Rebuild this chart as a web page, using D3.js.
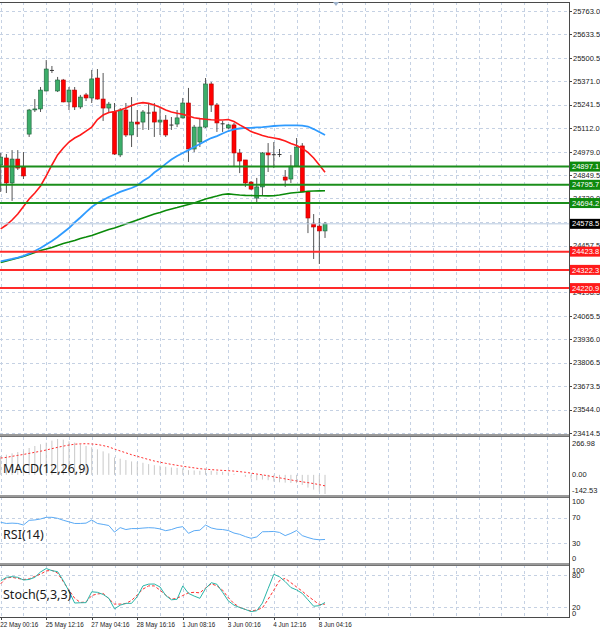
<!DOCTYPE html>
<html>
<head>
<meta charset="utf-8">
<script src="https://cdn.jsdelivr.net/npm/d3@7"></script>
<style>
  body { margin: 0; background: #fff; }
  svg { display: block; }
</style>
</head>
<body>
<div id="chart"></div>
<script>
// bars: [open, high, low, close]
const candles = [
  [24906, 24973, 24756, 24950], [24945, 24967, 24750, 24806], [24806, 24989, 24706, 24939],
  [24939, 24989, 24878, 24889], [24895, 24978, 24828, 24845], [25078, 25218, 25062, 25212],
  [25215, 25273, 25201, 25218], [25218, 25340, 25201, 25323], [25318, 25490, 25315, 25440],
  [25435, 25457, 25418, 25435], [25318, 25396, 25312, 25379], [25379, 25385, 25255, 25257],
  [25257, 25340, 25212, 25323], [25323, 25340, 25212, 25229], [25229, 25296, 25218, 25284],
  [25296, 25307, 25262, 25279], [25279, 25435, 25251, 25385], [25390, 25440, 25270, 25273],
  [25273, 25418, 25151, 25223], [25223, 25257, 25195, 25245], [25201, 25251, 24962, 24967],
  [24962, 25223, 24950, 25212], [25212, 25251, 25062, 25073], [25073, 25284, 25006, 25145],
  [25145, 25212, 25062, 25134], [25145, 25212, 25101, 25201], [25198, 25251, 25101, 25198],
  [25201, 25251, 25062, 25145], [25145, 25223, 25073, 25156], [25156, 25184, 25062, 25073],
  [25131, 25173, 25101, 25131], [25134, 25212, 25117, 25168], [25168, 25279, 25165, 25251],
  [25251, 25335, 24923, 24995], [24995, 25129, 24978, 25117], [25034, 25168, 25006, 25117],
  [25117, 25390, 25112, 25357], [25357, 25368, 25201, 25240], [25240, 25251, 25090, 25140],
  [25138, 25151, 25090, 25138], [25112, 25134, 25106, 25129], [25129, 25140, 24895, 24973],
  [24973, 24995, 24861, 24928], [24934, 24934, 24784, 24806], [24811, 24817, 24767, 24772],
  [24722, 24834, 24700, 24784], [24784, 24978, 24739, 24973], [24973, 25028, 24867, 24962],
  [24966, 25034, 24889, 24966], [24967, 24995, 24950, 24967], [24839, 24878, 24784, 24822],
  [24828, 24962, 24806, 24900], [24900, 25056, 24895, 25006], [25012, 25028, 24756, 24756],
  [24756, 24758, 24527, 24611], [24578, 24633, 24383, 24561], [24566, 24611, 24355, 24539],
  [24539, 24589, 24500, 24578.5]
];

// moving averages (fast red, middle blue, slow green)
const maFast = [24550,24572,24600,24633,24675,24717,24750,24789,24845,24906,24962,25001,25034,25056,25073,25095,25117,25159,25184,25198,25203,25212,25223,25237,25248,25253,25249,25240,25227,25212,25201,25194,25188,25179,25169,25164,25161,25158,25156,25156,25159,25148,25129,25112,25092,25081,25070,25062,25056,25050,25040,25026,25015,24998,24976,24945,24906,24865];
const maMid = [24369,24376,24383,24391,24400,24413,24427,24444,24464,24483,24505,24530,24555,24586,24614,24644,24672,24694,24711,24728,24742,24756,24767,24778,24792,24817,24836,24864,24886,24912,24937,24956,24973,24989,25006,25023,25040,25056,25067,25081,25095,25104,25109,25112,25113,25115,25117,25120,25123,25125,25126,25126,25126,25125,25120,25106,25090,25073];
const maSlow = [24363,24372,24380,24388,24397,24408,24419,24430,24438,24447,24458,24469,24477,24486,24497,24505,24514,24525,24536,24547,24555,24566,24578,24589,24600,24611,24622,24633,24642,24653,24661,24669,24678,24686,24694,24706,24717,24725,24733,24742,24745,24742,24739,24737,24736,24735,24735,24734,24735,24739,24745,24750,24753,24756,24760,24761,24762,24763];

// MACD(12,26,9)
const macdHist = [140,150,160,170,180,200,215,228,240,255,266.98,262,250,240,228,215,205,190,175,160,130,120,110,100,95,90,80,72,68,60,55,52,48,35,33,30,35,30,25,22,18,8,0,-15,-28,-40,-35,-40,-50,-55,-58,-60,-62,-75,-95,-110,-125,-142.53];
const macdSignal = [125,130,138,145,152,160,168,176,185,195,205,214,222,228,231,232,230,226,218,208,192,178,164,150,138,126,114,103,94,86,78,71,64,58,52,46,42,39,36,33,31,28,24,19,13,6,0,-7,-15,-22,-30,-38,-45,-52,-58,-65,-73,-82];

// RSI(14)
const rsi = [62.8,61,61.5,61,58.6,65.9,66.5,68,70.6,70.6,69,66,63.5,61,61,61.5,66.4,61,59.5,57.8,47.5,54.5,51.5,53,53,53.8,54.4,54,52.5,49.7,51.5,54.5,56,45.6,49.7,50.5,58.5,54,52,51.5,50,46,44,40.5,37.8,40,48,48.2,48.5,47,42,45.5,50,42,39,36.5,35.5,36];

// Stoch(5,3,3)
const stochMain = [69.5,76,77.3,76,71,72,76,86,92.5,88.5,86.6,70,50,28,28.5,28.7,49,48,44,37,17,24,27.4,27.4,40,60,63.3,63.5,58,42,34,35,60,46,41,36.8,55,66,63,48,32,24,19.5,16,12,13.5,28,55,81.7,77,68,57,52.5,46,34,22,23,29];
const stochSignal = [64,75,76,74,72,73,78,82,88,89,84,68,52,37,29,30,42,45,46,36,26,26,27,33,43,54,60,60,52,43,35,37,42,47,48,47,56,64,60,52,38,27,20,16,13,15,19,35,52,70,74,66,58,50,41,33,25,26];

// axis texts
const priceTicks = [25763.0,25633.5,25500.5,25371.0,25241.5,25112.0,24979.0,24849.5,24720.0,24590.5,24457.5,24328.0,24198.5,24065.5,23936.0,23806.5,23673.5,23544.0,23414.5];
const resistance = [24897.1, 24795.7, 24694.2];
const support = [24423.8, 24322.3, 24220.9];
const lastPrice = 24578.5;
const macdLabels = [266.98, 0, -142.53];
const rsiLevels = [70, 30];
const rsiLabels = [100, 70, 30, 0];
const stochLevels = [80, 20];
const stochLabels = [100, 80, 20, 0];
const timeLabels = ["22 May 00:16","25 May 12:16","27 May 04:16","28 May 16:16","1 Jun 08:16","3 Jun 00:16","4 Jun 12:16","8 Jun 04:16"];
const barsPerTimeLabel = 8;
const barsPerGrid = 4;

const chart = createChart();
document.getElementById("chart").appendChild(chart);

function createChart() {
    const width = 600;
    const height = 633;
    const plotRight = 569;
    const step = 5.69;

    // one x scale for all panels, one y scale per panel
    const x = d3.scaleLinear([0, 1], [0.7, 0.7 + step]);
    const y = d3.scaleLinear([23414.5, 25763], [433, 11]);
    const yMacd = d3.scaleLinear([-142.53, 266.98], [494, 439]);
    const yRsi = d3.scaleLinear([0, 100], [562.5, 498.5]);
    const yStoch = d3.scaleLinear([0, 100], [618, 564.5]);

    const svg = d3.create("svg")
        .attr("width", width)
        .attr("height", height)
        .attr("viewBox", [0, 0, width, height])
        .attr("font-family", "'Liberation Sans', Arial, sans-serif");

    svg.append("rect").attr("width", width).attr("height", height).attr("fill", "#fff");

    const grid = svg.append("g")
        .attr("stroke", "#c5d1e3")
        .attr("stroke-dasharray", "3,3")
        .attr("shape-rendering", "crispEdges");

    // vertical grid, every 4 bars through all panels
    const gridBars = d3.range(0, 200, barsPerGrid).filter(i => x(i) < plotRight - 2);
    for (const [top, bottom] of [[2, 435], [437, 495], [497, 563], [565, 617]]) {
        grid.append("g").selectAll("line")
            .data(gridBars)
            .join("line")
            .attr("x1", i => Math.round(x(i)) + 0.5)
            .attr("x2", i => Math.round(x(i)) + 0.5)
            .attr("y1", top)
            .attr("y2", bottom);
    }

    // horizontal grid
    grid.append("g").selectAll("line")
        .data(priceTicks)
        .join("line")
        .attr("x1", 0).attr("x2", plotRight)
        .attr("y1", d => Math.round(y(d)) + 0.5)
        .attr("y2", d => Math.round(y(d)) + 0.5);
    grid.append("g").selectAll("line")
        .data(rsiLevels)
        .join("line")
        .attr("x1", 0).attr("x2", plotRight)
        .attr("y1", d => Math.round(yRsi(d)) + 0.5)
        .attr("y2", d => Math.round(yRsi(d)) + 0.5);
    grid.append("g").selectAll("line")
        .data(stochLevels)
        .join("line")
        .attr("x1", 0).attr("x2", plotRight)
        .attr("y1", d => Math.round(yStoch(d)) + 0.5)
        .attr("y2", d => Math.round(yStoch(d)) + 0.5);

    // candles
    const bars = svg.append("g")
        .selectAll("g")
        .data(candles)
        .join("g")
        .attr("transform", (d, i) => `translate(${x(i)},0)`);

    bars.append("line")
        .attr("stroke", "#555")
        .attr("y1", d => y(d[1]))
        .attr("y2", d => y(d[2]));

    bars.append("rect")
        .attr("x", -2)
        .attr("width", 4)
        .attr("y", d => y(Math.max(d[0], d[3])))
        .attr("height", d => Math.max(1, Math.abs(y(d[0]) - y(d[3]))))
        .attr("fill", d => d[0] === d[3] ? "#333" : d[3] > d[0] ? "#3cae6a" : "#ff0000")
        .attr("stroke", d => d[0] === d[3] ? "none" : d[3] > d[0] ? "#1d5e38" : "#b40000")
        .attr("stroke-width", 0.6);

    // moving averages
    const maLine = d3.line().x((d, i) => x(i)).y(d => y(d));
    svg.append("path").attr("d", maLine(maSlow)).attr("fill", "none")
        .attr("stroke", "#0a8a0a").attr("stroke-width", 1.6);
    svg.append("path").attr("d", maLine(maMid)).attr("fill", "none")
        .attr("stroke", "#2f9bff").attr("stroke-width", 1.8);
    svg.append("path").attr("d", maLine(maFast)).attr("fill", "none")
        .attr("stroke", "#ff1a1a").attr("stroke-width", 1.6);

    // horizontal levels
    svg.append("line")
        .attr("x1", 0).attr("x2", plotRight)
        .attr("y1", y(lastPrice)).attr("y2", y(lastPrice))
        .attr("stroke", "#b7c8de");
    svg.append("g").selectAll("line")
        .data(resistance)
        .join("line")
        .attr("x1", 0).attr("x2", plotRight)
        .attr("y1", d => y(d)).attr("y2", d => y(d))
        .attr("stroke", "#1b8e1b").attr("stroke-width", 2);
    svg.append("g").selectAll("line")
        .data(support)
        .join("line")
        .attr("x1", 0).attr("x2", plotRight)
        .attr("y1", d => y(d)).attr("y2", d => y(d))
        .attr("stroke", "#ff2a2a").attr("stroke-width", 2);

    // MACD histogram and signal
    svg.append("g")
        .attr("stroke", "#c8c8c8")
        .selectAll("line")
        .data(macdHist)
        .join("line")
        .attr("x1", (d, i) => x(i)).attr("x2", (d, i) => x(i))
        .attr("y1", yMacd(0))
        .attr("y2", d => yMacd(d));
    svg.append("path")
        .attr("d", d3.line().x((d, i) => x(i)).y(d => yMacd(d))(macdSignal))
        .attr("fill", "none")
        .attr("stroke", "#ff3030")
        .attr("stroke-dasharray", "2,2");

    // RSI
    svg.append("path")
        .attr("d", d3.line().x((d, i) => x(i)).y(d => yRsi(d))(rsi))
        .attr("fill", "none")
        .attr("stroke", "#5aaaf5");

    // Stochastic
    svg.append("path")
        .attr("d", d3.line().x((d, i) => x(i)).y(d => yStoch(d))(stochSignal))
        .attr("fill", "none")
        .attr("stroke", "#ff3030")
        .attr("stroke-dasharray", "3,2");
    svg.append("path")
        .attr("d", d3.line().x((d, i) => x(i)).y(d => yStoch(d))(stochMain))
        .attr("fill", "none")
        .attr("stroke", "#2ab5a8");

    // panel borders and separators
    const frame = svg.append("g").attr("stroke", "#4a4a4a").attr("shape-rendering", "crispEdges");
    frame.append("line").attr("x1", 0).attr("x2", plotRight).attr("y1", 2.5).attr("y2", 2.5);
    for (const sy of [435, 496, 564]) {
        svg.append("rect").attr("x", 0).attr("y", sy - 1).attr("width", plotRight).attr("height", 2.5).attr("fill", "#9a9a9a");
        frame.append("line").attr("x1", 0).attr("x2", plotRight).attr("y1", sy - 1).attr("y2", sy - 1);
        frame.append("line").attr("x1", 0).attr("x2", plotRight).attr("y1", sy + 1.5).attr("y2", sy + 1.5);
    }
    frame.append("line").attr("x1", 0).attr("x2", plotRight).attr("y1", 617.5).attr("y2", 617.5);
    frame.append("line").attr("x1", plotRight + 0.5).attr("x2", plotRight + 0.5).attr("y1", 2).attr("y2", 618);

    // shift marker at the top
    svg.append("path").attr("d", "M333,2L339,2L336,6Z").attr("fill", "#9fb3cc");

    // level boxes on the axis
    const boxes = [
        ...resistance.map(v => ({ v, fill: "#0e8a0e" })),
        ...support.map(v => ({ v, fill: "#ff1a1a" })),
        { v: lastPrice, fill: "#000" }
    ];

    // price axis; a tick label fully under a level box is not drawn
    const hidden = d => boxes.some(b => Math.abs(y(b.v) - y(d)) < 3);
    const axis = svg.append("g").attr("font-size", 7.5).attr("fill", "#222");
    axis.selectAll("line")
        .data(priceTicks)
        .join("line")
        .attr("x1", plotRight).attr("x2", plotRight + 3)
        .attr("y1", d => Math.round(y(d)) + 0.5).attr("y2", d => Math.round(y(d)) + 0.5)
        .attr("stroke", "#444");
    axis.selectAll("text")
        .data(priceTicks.filter(d => !hidden(d)))
        .join("text")
        .attr("x", plotRight + 4)
        .attr("y", d => y(d))
        .attr("dy", "0.35em")
        .text(d => d.toFixed(1));

    const box = svg.append("g").selectAll("g")
        .data(boxes)
        .join("g")
        .attr("transform", d => `translate(${plotRight + 1},${y(d.v)})`);
    box.append("rect")
        .attr("y", -5).attr("width", 31).attr("height", 10)
        .attr("fill", d => d.fill);
    box.append("text")
        .attr("x", 2).attr("dy", "0.35em")
        .attr("font-size", 7.5).attr("fill", "#fff")
        .text(d => d.v.toFixed(1));

    // indicator axis labels
    const subAxis = svg.append("g").attr("font-size", 7.5).attr("fill", "#222");
    subAxis.selectAll(".macd")
        .data(macdLabels)
        .join("text")
        .attr("x", plotRight + 3)
        .attr("y", d => Math.min(Math.max(yMacd(d), 443), 490))
        .attr("dy", "0.35em")
        .text(d => d.toFixed(2));
    subAxis.selectAll(".rsi")
        .data(rsiLabels)
        .join("text")
        .attr("x", plotRight + 3)
        .attr("y", d => Math.min(Math.max(yRsi(d), 501), 558))
        .attr("dy", "0.35em")
        .text(d => d);
    subAxis.selectAll(".stoch")
        .data(stochLabels)
        .join("text")
        .attr("x", plotRight + 3)
        .attr("y", d => Math.min(Math.max(yStoch(d), 570), 613))
        .attr("dy", "0.35em")
        .text(d => d);

    // indicator names
    const names = svg.append("g")
        .attr("font-family", "'Noto Sans', sans-serif")
        .attr("font-size", 12.5)
        .attr("fill", "#1a1a1a");
    names.append("text").attr("x", 3).attr("y", 472.5).text("MACD(12,26,9)");
    names.append("text").attr("x", 3).attr("y", 538.5).text("RSI(14)");
    names.append("text").attr("x", 3).attr("y", 599).text("Stoch(5,3,3)");

    // time axis
    const timeAxis = svg.append("g").attr("font-size", 6.3).attr("fill", "#222");
    timeAxis.selectAll("text")
        .data(timeLabels)
        .join("text")
        .attr("x", (d, i) => x(i * barsPerTimeLabel) - 0.5)
        .attr("y", 626.5)
        .text(d => d);
    timeAxis.selectAll("line")
        .data(timeLabels)
        .join("line")
        .attr("x1", (d, i) => Math.round(x(i * barsPerTimeLabel)) + 0.5)
        .attr("x2", (d, i) => Math.round(x(i * barsPerTimeLabel)) + 0.5)
        .attr("y1", 618).attr("y2", 620)
        .attr("stroke", "#444");

    return svg.node();
}
</script>
</body>
</html>
